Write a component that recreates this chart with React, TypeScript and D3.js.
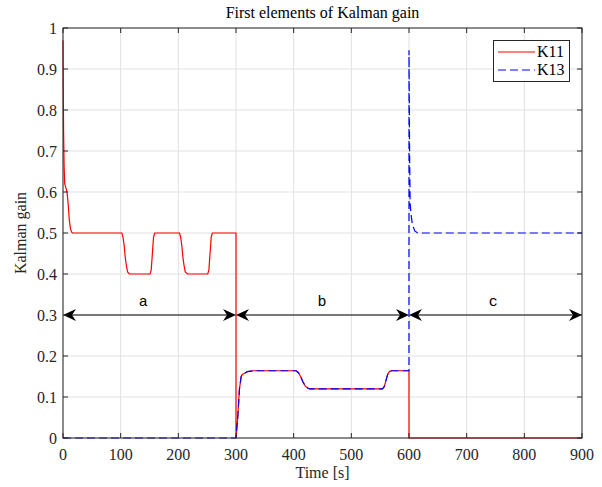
import React from "react";
import * as d3 from "d3";

const xTicks = [0, 100, 200, 300, 400, 500, 600, 700, 800, 900];
const yTicks = [0, 0.1, 0.2, 0.3, 0.4, 0.5, 0.6, 0.7, 0.8, 0.9, 1];
const yTickLabels = ["0", "0.1", "0.2", "0.3", "0.4", "0.5", "0.6", "0.7", "0.8", "0.9", "1"];

const k11Time = [
  0, 0.5, 1, 2, 3, 5, 7, 9, 11, 13, 15, 17,
  102, 104, 106, 108, 110, 112, 115,
  151, 153, 155, 157, 159, 161,
  202, 204, 206, 208, 210, 212, 216,
  251, 253, 255, 257, 259, 261,
  300, 300, 303, 306, 309, 311, 315, 320, 330,
  404, 408, 412, 416, 420, 424, 428,
  554, 557, 560, 563, 566, 570, 600,
  600, 900,
];
const k11Value = [
  0.97, 0.85, 0.75, 0.66, 0.62, 0.61, 0.6, 0.57, 0.53, 0.51, 0.502, 0.5,
  0.5, 0.49, 0.47, 0.44, 0.42, 0.405, 0.4,
  0.4, 0.41, 0.45, 0.49, 0.5, 0.5,
  0.5, 0.49, 0.47, 0.44, 0.42, 0.405, 0.4,
  0.4, 0.41, 0.45, 0.49, 0.5, 0.5,
  0.5, 0, 0.05, 0.12, 0.15, 0.155, 0.158, 0.162, 0.164,
  0.164, 0.16, 0.15, 0.137, 0.127, 0.122, 0.12,
  0.12, 0.125, 0.14, 0.155, 0.162, 0.164, 0.164,
  0, 0,
];

const k13Time = [
  0, 300, 303, 306, 309, 311, 315, 320, 330,
  404, 408, 412, 416, 420, 424, 428,
  554, 557, 560, 563, 566, 570, 600,
  600, 601, 602, 604, 606, 610, 615, 900,
];
const k13Value = [
  0, 0, 0.05, 0.12, 0.15, 0.155, 0.158, 0.162, 0.164,
  0.164, 0.16, 0.15, 0.137, 0.127, 0.122, 0.12,
  0.12, 0.125, 0.14, 0.155, 0.162, 0.164, 0.164,
  0.946, 0.7, 0.57, 0.54, 0.52, 0.505, 0.5, 0.5,
];

const segStart = [0, 300, 600];
const segEnd = [300, 600, 900];
const segLabel = ["a", "b", "c"];
const segLabelX = [139, 449, 746];
const arrowLevel = 0.3;

const seriesNames = ["K11", "K13"];

const W = 602;
const H = 487;
const m = { left: 63, right: 20, top: 28, bottom: 49 };

export default function App() {
  const x = d3.scaleLinear().domain([0, 900]).range([m.left, W - m.right]);
  const y = d3.scaleLinear().domain([0, 1]).range([H - m.bottom, m.top]);
  const line = d3
    .line<[number, number]>()
    .x((d) => x(d[0]))
    .y((d) => y(d[1]));
  const k11 = k11Time.map((t, i) => [t, k11Value[i]] as [number, number]);
  const k13 = k13Time.map((t, i) => [t, k13Value[i]] as [number, number]);
  const x0 = x(0), x1 = x(900), y0 = y(0), y1 = y(1);
  const serif = { fontFamily: '"Liberation Serif", "Times New Roman", serif', fontSize: "16px" };
  const mono = { fontFamily: '"Liberation Mono", "Courier New", monospace', fontSize: "15px" };
  const axisColor = "#262626";

  const arrowHead = (px: number, py: number, dir: number) => {
    const L = 13, Wd = 6, notch = 9;
    const pts = [
      [px, py],
      [px - dir * L, py - Wd],
      [px - dir * notch, py],
      [px - dir * L, py + Wd],
    ];
    return "M" + pts.map((p) => p.join(",")).join("L") + "Z";
  };

  return (
    <svg width={W} height={H} style={{ position: "absolute", left: 0, top: 0, background: "#fff" }}>
      <rect x={0} y={0} width={W} height={H} fill="#fff" />
      {xTicks.map((t) => (
        <line key={"gx" + t} x1={x(t)} x2={x(t)} y1={y0} y2={y1} stroke="#e1e1e1" strokeWidth={1} />
      ))}
      {yTicks.map((t) => (
        <line key={"gy" + t} x1={x0} x2={x1} y1={y(t)} y2={y(t)} stroke="#e1e1e1" strokeWidth={1} />
      ))}
      <path d={line(k11) || ""} fill="none" stroke="#ff0000" strokeWidth={1.2} />
      <path d={line(k13) || ""} fill="none" stroke="#0000ff" strokeWidth={1.2} strokeDasharray="8,4" />
      {segStart.map((s, i) => {
        const ay = y(arrowLevel);
        const xa = x(s), xb = x(segEnd[i]);
        return (
          <g key={"arr" + i}>
            <line x1={xa + 6} x2={xb - 6} y1={ay} y2={ay} stroke="#000" strokeWidth={1.2} />
            <path d={arrowHead(xa, ay, -1)} fill="#000" />
            <path d={arrowHead(xb, ay, 1)} fill="#000" />
            <text x={x(segLabelX[i])} y={ay - 9} textAnchor="middle" style={mono} fill="#000">
              {segLabel[i]}
            </text>
          </g>
        );
      })}
      <rect x={x0} y={y1} width={x1 - x0} height={y0 - y1} fill="none" stroke={axisColor} strokeWidth={1} />
      {xTicks.map((t) => (
        <g key={"tx" + t}>
          <line x1={x(t)} x2={x(t)} y1={y0} y2={y0 - 5} stroke={axisColor} />
          <line x1={x(t)} x2={x(t)} y1={y1} y2={y1 + 5} stroke={axisColor} />
          <text x={x(t)} y={y0 + 22} textAnchor="middle" style={serif} fill={axisColor}>
            {t}
          </text>
        </g>
      ))}
      {yTicks.map((t, i) => (
        <g key={"ty" + t}>
          <line x1={x0} x2={x0 + 5} y1={y(t)} y2={y(t)} stroke={axisColor} />
          <line x1={x1} x2={x1 - 5} y1={y(t)} y2={y(t)} stroke={axisColor} />
          <text x={x0 - 6} y={y(t) + 5.5} textAnchor="end" style={serif} fill={axisColor}>
            {yTickLabels[i]}
          </text>
        </g>
      ))}
      <text x={(x0 + x1) / 2} y={18} textAnchor="middle" style={serif} fill="#000">
        First elements of Kalman gain
      </text>
      <text x={(x0 + x1) / 2} y={478} textAnchor="middle" style={serif} fill={axisColor}>
        Time [s]
      </text>
      <text
        transform={`translate(26,${(y0 + y1) / 2}) rotate(-90)`}
        textAnchor="middle"
        style={serif}
        fill={axisColor}
      >
        Kalman gain
      </text>
      <g>
        <rect x={493.5} y={40.5} width={76} height={41} fill="#fff" stroke={axisColor} strokeWidth={1} />
        <line x1={498} x2={535} y1={52} y2={52} stroke="#ff0000" strokeWidth={1.2} />
        <line x1={498} x2={535} y1={70} y2={70} stroke="#0000ff" strokeWidth={1.2} strokeDasharray="8,4" />
        <text x={537} y={57} style={serif} fill="#000">
          {seriesNames[0]}
        </text>
        <text x={537} y={75} style={serif} fill="#000">
          {seriesNames[1]}
        </text>
      </g>
    </svg>
  );
}
